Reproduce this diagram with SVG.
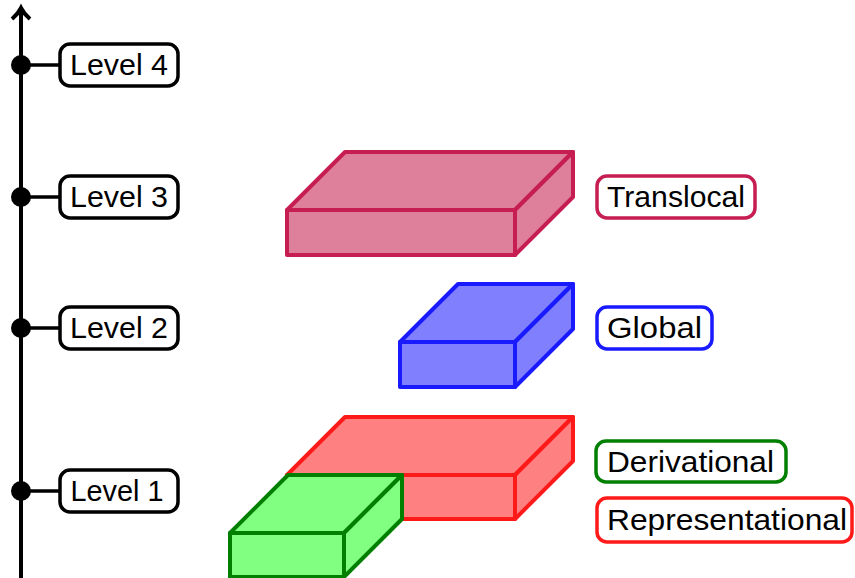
<svg xmlns="http://www.w3.org/2000/svg" width="855" height="578" viewBox="0 0 855 578">
  <style>
    .axis { stroke: #000; stroke-width: 4; fill: none; }
    .tick { stroke: #000; stroke-width: 3.5; }
    .dot { fill: #000; }
    .lbl { fill: #fff; stroke-width: 3.5; }
    .txt { font-family: "Liberation Sans", "DejaVu Sans", sans-serif; font-size: 29px; fill: #000; text-anchor: middle; }
    .face { stroke-width: 4; stroke-linejoin: round; }
    .purple { fill: #de7f9b; stroke: #c61d52; }
    .blue { fill: #8080ff; stroke: #1a1aff; }
    .red { fill: #ff8080; stroke: #ff1a1a; }
    .green { fill: #80ff80; stroke: #007f00; }
  </style>

  <!-- vertical axis with levels -->
  <g id="axis">
    <line class="axis" x1="21" y1="578" x2="21" y2="10"/>
    <path class="axis" d="M12,19 Q18,14 21,8 Q24,14 30,19" stroke-width="3.5"/>
  </g>

  <g id="connectors">
    <line class="tick" x1="21" y1="65" x2="60" y2="65"/>
    <line class="tick" x1="21" y1="197" x2="60" y2="197"/>
    <line class="tick" x1="21" y1="328" x2="60" y2="328"/>
    <line class="tick" x1="21" y1="491" x2="60" y2="491"/>
  </g>

  <g id="level4">
    <circle class="dot" cx="21" cy="65" r="10"/>
    <rect class="lbl" x="60" y="44" width="118" height="42" rx="10" stroke="#000"/>
    <text class="txt" x="119" y="75" textLength="98" lengthAdjust="spacingAndGlyphs">Level 4</text>
  </g>
  <g id="level3">
    <circle class="dot" cx="21" cy="197" r="10"/>
    <rect class="lbl" x="60" y="176" width="118" height="42" rx="10" stroke="#000"/>
    <text class="txt" x="119" y="207" textLength="98" lengthAdjust="spacingAndGlyphs">Level 3</text>
  </g>
  <g id="level2">
    <circle class="dot" cx="21" cy="328" r="10"/>
    <rect class="lbl" x="60" y="307" width="118" height="42" rx="10" stroke="#000"/>
    <text class="txt" x="119" y="338" textLength="98" lengthAdjust="spacingAndGlyphs">Level 2</text>
  </g>
  <g id="level1">
    <circle class="dot" cx="21" cy="491" r="10"/>
    <rect class="lbl" x="60" y="470" width="118" height="42" rx="10" stroke="#000"/>
    <text class="txt" x="117" y="501" textLength="93" lengthAdjust="spacingAndGlyphs">Level 1</text>
  </g>

  <!-- translocal block -->
  <g id="translocal">
    <polygon class="face purple" points="287,210 345,152 573,152 515,210"/>
    <polygon class="face purple" points="515,210 573,152 573,197 515,255"/>
    <rect class="face purple" x="287" y="210" width="228" height="45"/>
    <rect class="lbl" x="597" y="176" width="158" height="42" rx="10" stroke="#c61d52"/>
    <text class="txt" x="676" y="207" textLength="138" lengthAdjust="spacingAndGlyphs">Translocal</text>
  </g>

  <!-- global block -->
  <g id="global">
    <polygon class="face blue" points="400,342 458,284 573,284 515,342"/>
    <polygon class="face blue" points="515,342 573,284 573,329 515,387"/>
    <rect class="face blue" x="400" y="342" width="115" height="45"/>
    <rect class="lbl" x="597" y="307" width="115" height="42" rx="10" stroke="#1a1aff"/>
    <text class="txt" x="654.5" y="338" textLength="95" lengthAdjust="spacingAndGlyphs">Global</text>
  </g>

  <!-- representational block -->
  <g id="representational">
    <polygon class="face red" points="287,475 345,417 573,417 515,475"/>
    <polygon class="face red" points="515,475 573,417 573,461 515,519"/>
    <rect class="face red" x="287" y="475" width="228" height="44"/>
    <rect class="lbl" x="597" y="498" width="255" height="44" rx="10" stroke="#ff1a1a"/>
    <text class="txt" x="727" y="530" textLength="240" lengthAdjust="spacingAndGlyphs">Representational</text>
  </g>

  <!-- derivational block -->
  <g id="derivational">
    <polygon class="face green" points="230,533 288,475 402,475 344,533"/>
    <polygon class="face green" points="344,533 402,475 402,519 344,577"/>
    <rect class="face green" x="230" y="533" width="114" height="44"/>
    <rect class="lbl" x="596" y="441" width="190" height="41" rx="10" stroke="#007f00"/>
    <text class="txt" x="690.5" y="472" textLength="167" lengthAdjust="spacingAndGlyphs">Derivational</text>
  </g>
</svg>
